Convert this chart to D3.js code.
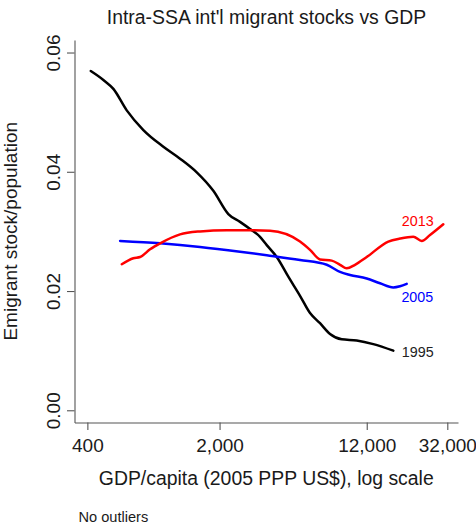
<!DOCTYPE html>
<html>
<head>
<meta charset="utf-8">
<script src="https://cdn.jsdelivr.net/npm/d3@7"></script>
<style>
  html, body { margin: 0; padding: 0; background: #fff; }
  svg { display: block; font-family: "Liberation Sans", Arial, Helvetica, sans-serif; }
</style>
</head>
<body>
<svg id="chart" width="476" height="527"></svg>
<script>
// Smoothed emigrant stock / population against GDP per capita (log scale)
const gdp1995 = [417, 486, 549, 646, 791, 1009, 1236, 1515, 1854, 2225, 2566, 2899, 3273, 3552,
                 4012, 4619, 5326, 6016, 6795, 7675, 8849, 10621, 13002, 16583];
const stock1995 = [0.0569, 0.0554, 0.0539, 0.0503, 0.0470, 0.0442, 0.0422, 0.0399, 0.0368, 0.0329,
                   0.0316, 0.0304, 0.0291, 0.0277, 0.0257, 0.0224, 0.0192, 0.0163, 0.0146, 0.0128,
                   0.0119, 0.0117, 0.0111, 0.0100];

const gdp2005 = [596, 970, 1577, 2566, 3552, 5326, 7375, 8668, 9790, 11997, 14107, 16583, 17991, 19521];
const stock2005 = [0.0284, 0.0280, 0.0274, 0.0266, 0.0260, 0.0252, 0.0244, 0.0232, 0.0227, 0.0221,
                   0.0213, 0.0206, 0.0208, 0.0212];

const gdp2013 = [608, 700, 760, 858, 970, 1236, 1577, 2183, 2784, 3697, 5326, 6016, 6795, 7835,
                 8668, 9403, 10403, 11997, 15606, 17991, 21153, 23431, 25923, 30474];
const stock2013 = [0.0245, 0.0255, 0.0257, 0.0270, 0.0280, 0.0295, 0.0300, 0.0302, 0.0302, 0.0301,
                   0.0283, 0.0269, 0.0253, 0.0251, 0.0244, 0.0238, 0.0244, 0.0257, 0.0283, 0.0288,
                   0.0291, 0.0284, 0.0294, 0.0312];

const seriesNames = ["1995", "2005", "2013"];
const seriesColors = ["#000000", "#0000ff", "#ff0000"];

const xTicks = [400, 2000, 12000, 32000];
const xTickLabels = ["400", "2,000", "12,000", "32,000"];
const yTicks = [0, 0.02, 0.04, 0.06];
const yTickLabels = ["0.00", "0.02", "0.04", "0.06"];

const titleText = "Intra-SSA int'l migrant stocks vs GDP";
const xTitle = "GDP/capita (2005 PPP US$), log scale";
const yTitle = "Emigrant stock/population";
const noteText = "No outliers";

const series = [
  { name: seriesNames[0], color: seriesColors[0], xs: gdp1995, ys: stock1995 },
  { name: seriesNames[1], color: seriesColors[1], xs: gdp2005, ys: stock2005 },
  { name: seriesNames[2], color: seriesColors[2], xs: gdp2013, ys: stock2013 }
];

const plot = { left: 74.5, right: 458, top: 40, bottom: 422.5 };

const svg = d3.select("#chart");

const x = d3.scaleLog().domain([342, 36450]).range([plot.left, plot.right]);
const y = d3.scaleLinear().domain([-0.00205, 0.0621]).range([plot.bottom, plot.top]);

const axisColor = "#555";
const textColor = "#1a1a1a";

// x axis
const gx = svg.append("g")
  .attr("transform", `translate(0,${plot.bottom})`)
  .call(d3.axisBottom(x).tickValues(xTicks).tickFormat((d, i) => xTickLabels[i])
    .tickSizeOuter(0).tickSizeInner(7.5).tickPadding(9));
gx.select(".domain").attr("stroke", axisColor).attr("stroke-width", 1.1);
gx.selectAll(".tick line").attr("stroke", axisColor).attr("stroke-width", 1.1);
gx.selectAll(".tick text").attr("font-size", 19).attr("fill", textColor)
  .attr("font-family", "Liberation Sans, Arial, sans-serif").attr("dy", "0.71em");

// y axis, labels rotated to read upward
const gy = svg.append("g")
  .attr("transform", `translate(${plot.left},0)`)
  .call(d3.axisLeft(y).tickValues(yTicks).tickFormat((d, i) => yTickLabels[i])
    .tickSizeOuter(0).tickSizeInner(7.5));
gy.select(".domain").attr("stroke", axisColor).attr("stroke-width", 1.1);
gy.selectAll(".tick line").attr("stroke", axisColor).attr("stroke-width", 1.1);
gy.selectAll(".tick text")
  .attr("x", null).attr("dy", null)
  .attr("transform", "translate(-14.5,0) rotate(-90)")
  .attr("text-anchor", "middle")
  .attr("font-size", 19).attr("fill", textColor)
  .attr("font-family", "Liberation Sans, Arial, sans-serif");

// series lines
const line = d3.line()
  .x(d => x(d[0]))
  .y(d => y(d[1]))
  .curve(d3.curveMonotoneX);

series.forEach(s => {
  const pts = s.xs.map((v, i) => [v, s.ys[i]]);
  svg.append("path")
    .datum(pts)
    .attr("fill", "none")
    .attr("stroke", s.color)
    .attr("stroke-width", 2.5)
    .attr("stroke-linejoin", "round")
    .attr("stroke-linecap", "round")
    .attr("d", line);
});

// series labels placed beside line ends
const labelPos = [
  { gx: 18400, val: 0.0089, color: "#222" },
  { gx: 18300, val: 0.0182, color: seriesColors[1] },
  { gx: 18400, val: 0.0309, color: seriesColors[2] }
];
labelPos.forEach((p, i) => {
  svg.append("text")
    .attr("x", x(p.gx))
    .attr("y", y(p.val))
    .attr("font-size", 14.3)
    .attr("fill", p.color)
    .text(seriesNames[i]);
});

// titles
svg.append("text")
  .attr("x", 266.5).attr("y", 23.5)
  .attr("text-anchor", "middle")
  .attr("font-size", 19.4)
  .attr("fill", textColor)
  .text(titleText);

svg.append("text")
  .attr("x", (plot.left + plot.right) / 2).attr("y", 485)
  .attr("text-anchor", "middle")
  .attr("font-size", 19.4)
  .attr("fill", textColor)
  .text(xTitle);

svg.append("text")
  .attr("transform", `translate(16.5,${(plot.top + plot.bottom) / 2}) rotate(-90)`)
  .attr("text-anchor", "middle")
  .attr("font-size", 19)
  .attr("fill", textColor)
  .text(yTitle);

svg.append("text")
  .attr("x", 78.5).attr("y", 521.7)
  .attr("font-size", 14.6)
  .attr("fill", textColor)
  .text(noteText);
</script>
</body>
</html>
